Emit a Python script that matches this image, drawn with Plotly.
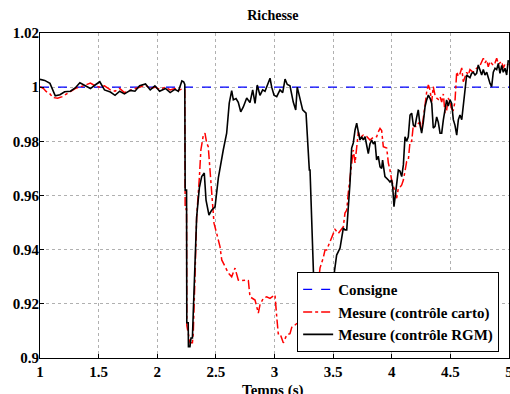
import plotly.graph_objects as go

# Consigne (setpoint)
t_consigne = [1.0, 5.0]
rich_consigne = [1.0, 1.0]

# Mesure (contrôle carto)
t_carto = [1.000, 1.03, 1.05, 1.085, 1.11, 1.15, 1.19, 1.25, 1.30, 1.35, 1.39, 1.43, 1.47, 1.51, 1.55,
           1.60, 1.64, 1.68, 1.72, 1.77, 1.81, 1.85, 1.90, 1.94, 1.98, 2.02, 2.07, 2.11, 2.15, 2.19,
           2.22, 2.235, 2.238, 2.250, 2.252, 2.265, 2.279, 2.300, 2.307, 2.322, 2.336, 2.359, 2.372,
           2.393, 2.407, 2.422, 2.435, 2.450, 2.464, 2.473, 2.484, 2.507, 2.535, 2.550, 2.578, 2.606,
           2.635, 2.663, 2.691, 2.720, 2.760, 2.777, 2.791, 2.834, 2.862, 2.876, 2.904, 2.933, 2.962,
           2.996, 3.004, 3.019, 3.032, 3.047, 3.075, 3.104, 3.132, 3.147, 3.17, 3.25, 3.32, 3.360,
           3.374, 3.388, 3.416, 3.431, 3.445, 3.473, 3.501, 3.516, 3.544, 3.573, 3.587, 3.601, 3.616,
           3.629, 3.644, 3.658, 3.672, 3.687, 3.701, 3.715, 3.729, 3.757, 3.786, 3.814, 3.843, 3.871,
           3.885, 3.900, 3.914, 3.928, 3.957, 3.971, 3.985, 3.999, 4.028, 4.042, 4.056, 4.070, 4.085,
           4.099, 4.113, 4.127, 4.141, 4.156, 4.170, 4.184, 4.198, 4.213, 4.226, 4.241, 4.255, 4.269,
           4.284, 4.298, 4.312, 4.326, 4.341, 4.354, 4.369, 4.383, 4.397, 4.412, 4.426, 4.440, 4.454,
           4.468, 4.482, 4.497, 4.511, 4.525, 4.539, 4.554, 4.568, 4.582, 4.597, 4.610, 4.625, 4.639,
           4.653, 4.667, 4.695, 4.724, 4.753, 4.781, 4.795, 4.810, 4.823, 4.838, 4.866, 4.881, 4.895,
           4.909, 4.923, 4.938, 4.951, 4.966, 4.980, 4.994]
rich_carto = [1.0002, 0.9995, 0.9985, 0.9975, 0.9962, 0.9959, 0.9965, 0.9980, 0.9995, 1.0002, 1.0010,
              1.0015, 1.0005, 1.0000, 1.0005, 0.9990, 0.9985, 0.9995, 0.9980, 0.9990, 0.9995, 1.0000,
              1.0008, 0.9995, 1.0000, 0.9992, 1.0000, 0.9990, 0.9995, 0.9990, 0.9995, 0.9990, 0.955,
              0.955, 0.912, 0.909, 0.9056, 0.9056, 0.909, 0.930, 0.952, 0.9665, 0.9768, 0.9823, 0.983,
              0.9794, 0.9780, 0.9694, 0.9596, 0.9546, 0.9498, 0.9460, 0.9411, 0.9362, 0.9337, 0.9314,
              0.9300, 0.9332, 0.9288, 0.9286, 0.9288, 0.9286, 0.9226, 0.9214, 0.9166, 0.9196, 0.9220,
              0.9226, 0.9220, 0.9233, 0.9233, 0.9152, 0.9090, 0.9090, 0.9056, 0.9085, 0.9090, 0.9113,
              0.912, 0.915, 0.918, 0.922, 0.9288, 0.9332, 0.9370, 0.9399, 0.9399, 0.9430, 0.9460,
              0.9475, 0.9460, 0.9475, 0.9485, 0.9535, 0.9546, 0.9609, 0.9670, 0.9731, 0.9768, 0.9720,
              0.9768, 0.9835, 0.9813, 0.9823, 0.9818, 0.9805, 0.9815, 0.9817, 0.9835, 0.9848, 0.9840,
              0.9780, 0.9775, 0.9720, 0.9694, 0.9657, 0.9614, 0.9590, 0.9626, 0.9630, 0.9639, 0.9657,
              0.9690, 0.9725, 0.9730, 0.9799, 0.9800, 0.9860, 0.9855, 0.9855, 0.9865, 0.9872, 0.9840,
              0.9880, 0.9934, 0.9983, 1.0008, 0.9990, 0.9946, 1.0002, 0.9970, 0.9960, 0.9955, 0.9965,
              0.9945, 0.9975, 0.9904, 0.9915, 0.9960, 0.9945, 0.9920, 0.9915, 0.9946, 1.0057, 1.0040,
              1.0050, 1.0071, 1.0020, 1.0040, 1.0055, 1.0045, 1.0065, 1.0055, 1.0070, 1.0080, 1.0107,
              1.0090, 1.0100, 1.0075, 1.0095, 1.0080, 1.0090, 1.0107, 1.0085, 1.0090, 1.0095, 1.0070,
              1.0085, 1.0080, 1.0085]

# Mesure (contrôle RGM)
t_rgm = [1.000, 1.04, 1.085, 1.11, 1.13, 1.17, 1.21, 1.26, 1.30, 1.34, 1.38, 1.43, 1.47, 1.51, 1.55,
         1.60, 1.64, 1.68, 1.72, 1.77, 1.81, 1.85, 1.90, 1.94, 1.98, 2.02, 2.07, 2.11, 2.15, 2.18,
         2.20, 2.21, 2.225, 2.235, 2.238, 2.250, 2.252, 2.264, 2.266, 2.279, 2.288, 2.300, 2.307,
         2.320, 2.336, 2.359, 2.379, 2.401, 2.416, 2.441, 2.464, 2.493, 2.521, 2.563, 2.592, 2.614,
         2.635, 2.649, 2.672, 2.691, 2.712, 2.734, 2.763, 2.791, 2.814, 2.834, 2.853, 2.876, 2.899,
         2.919, 2.942, 2.962, 2.976, 2.996, 3.019, 3.047, 3.070, 3.090, 3.109, 3.132, 3.160, 3.181,
         3.194, 3.217, 3.240, 3.269, 3.280, 3.297, 3.303, 3.317, 3.325, 3.335, 3.345, 3.37, 3.42,
         3.46, 3.495, 3.507, 3.530, 3.559, 3.573, 3.587, 3.601, 3.616, 3.629, 3.644, 3.658, 3.672,
         3.687, 3.701, 3.715, 3.729, 3.744, 3.757, 3.772, 3.786, 3.800, 3.814, 3.829, 3.843, 3.857,
         3.871, 3.885, 3.900, 3.914, 3.922, 3.942, 3.971, 3.985, 3.999, 4.008, 4.019, 4.028, 4.042,
         4.056, 4.070, 4.085, 4.099, 4.113, 4.127, 4.141, 4.156, 4.170, 4.184, 4.198, 4.213, 4.226,
         4.241, 4.255, 4.269, 4.284, 4.298, 4.312, 4.326, 4.341, 4.354, 4.369, 4.383, 4.397, 4.412,
         4.426, 4.440, 4.454, 4.468, 4.482, 4.497, 4.511, 4.525, 4.539, 4.554, 4.568, 4.582, 4.597,
         4.610, 4.625, 4.639, 4.653, 4.667, 4.681, 4.695, 4.710, 4.724, 4.738, 4.753, 4.767, 4.781,
         4.795, 4.810, 4.823, 4.838, 4.852, 4.866, 4.881, 4.895, 4.909, 4.923, 4.938, 4.951, 4.966,
         4.980, 4.994]
rich_rgm = [1.0029, 1.0025, 1.0014, 0.9985, 0.9968, 0.9972, 0.9983, 0.9985, 0.9997, 1.0016, 1.0008,
            0.9995, 1.0008, 1.0020, 0.9990, 0.9982, 0.9970, 0.9985, 0.9975, 0.9988, 0.9985, 1.0005,
            1.0012, 0.9990, 1.0005, 0.9985, 0.9995, 0.9980, 0.9992, 0.9985, 1.0010, 1.0023, 1.0020,
            1.0010, 0.962, 0.962, 0.913, 0.913, 0.9042, 0.9042, 0.9074, 0.9074, 0.9166, 0.935, 0.952,
            0.9628, 0.967, 0.9683, 0.9583, 0.9528, 0.9546, 0.9558, 0.9665, 0.9768, 0.983, 0.9941,
            0.9987, 0.9953, 0.9958, 0.9944, 0.9909, 0.9927, 0.9960, 0.9943, 0.9990, 0.9940, 1.0008,
            0.9970, 0.9990, 0.9985, 1.0014, 1.0033, 1.0000, 0.9970, 0.9965, 0.9990, 0.9980, 1.0030,
            1.0010, 1.0005, 0.9945, 0.9916, 1.0000, 0.9955, 0.9916, 0.9904, 0.9805, 0.9694, 0.9694,
            0.952, 0.9388, 0.9314, 0.915, 0.905, 0.903, 0.905, 0.915, 0.9306, 0.938, 0.9406, 0.9446,
            0.948, 0.9473, 0.9473, 0.9554, 0.9646, 0.9775, 0.9794, 0.9842, 0.9867, 0.9835, 0.9805,
            0.9817, 0.9805, 0.9817, 0.9780, 0.9755, 0.9790, 0.9805, 0.9790, 0.9800, 0.9731, 0.9745,
            0.9706, 0.9700, 0.9731, 0.9670, 0.9657, 0.9650, 0.9657, 0.9633, 0.9559, 0.9590, 0.9646,
            0.9694, 0.9690, 0.9670, 0.9713, 0.9817, 0.9800, 0.9817, 0.9897, 0.9904, 0.9860, 0.9854,
            0.9890, 0.9916, 0.9860, 0.9830, 0.9870, 0.9928, 0.9953, 0.9971, 0.9960, 0.9940, 0.9849,
            0.9855, 0.9890, 0.9870, 0.9830, 0.9830, 0.9879, 0.9920, 0.9953, 0.9930, 0.9953, 0.9940,
            0.9880, 0.9860, 0.9823, 0.9880, 0.9897, 0.9880, 0.9940, 0.9996, 1.0045, 1.0040, 1.0035,
            1.0051, 1.0055, 1.0045, 1.0051, 1.0082, 1.0060, 1.0045, 1.0065, 1.0045, 1.0055, 1.0035,
            1.0014, 1.0002, 1.0055, 1.0070, 1.0065, 1.0088, 1.0051, 1.0080, 1.0055, 1.0070, 1.0045,
            1.0100]

x_ticks = [1, 1.5, 2, 2.5, 3, 3.5, 4, 4.5, 5]
x_tick_labels = ["1", "1.5", "2", "2.5", "3", "3.5", "4", "4.5", "5"]
y_ticks = [0.9, 0.92, 0.94, 0.96, 0.98, 1.0, 1.02]
y_tick_labels = ["0.9", "0.92", "0.94", "0.96", "0.98", "1", "1.02"]

FONT = "Liberation Serif"

fig = go.Figure()
fig.add_trace(go.Scatter(x=t_consigne, y=rich_consigne, mode="lines", name="Consigne",
                         line=dict(color="#0000ff", width=1.3, dash="dash")))
fig.add_trace(go.Scatter(x=t_carto, y=rich_carto, mode="lines", name="Mesure (contrôle carto)",
                         line=dict(color="#ff0000", width=1.5, dash="dashdot")))
fig.add_trace(go.Scatter(x=t_rgm, y=rich_rgm, mode="lines", name="Mesure (contrôle RGM)",
                         line=dict(color="#000000", width=1.6)))

axis_common = dict(
    showline=True, linecolor="black", linewidth=1, mirror=True,
    ticks="inside", ticklen=4, tickcolor="black",
    showgrid=True, gridcolor="#b0b0b0", griddash="dot", gridwidth=1,
    zeroline=False, automargin=False, ticklabeloverflow="allow",
    tickfont=dict(family=FONT, size=15, color="black", weight="bold"),
)

fig.update_layout(
    width=510, height=394,
    margin=dict(l=40, r=1, t=33, b=36),
    paper_bgcolor="white", plot_bgcolor="white",
    title=dict(text="<b>Richesse</b>", x=0.535, xanchor="center", xref="container",
               y=0.962, yanchor="middle", yref="container", automargin=False,
               font=dict(family=FONT, size=14, color="black")),
    xaxis=dict(range=[1, 5], tickvals=x_ticks, ticktext=x_tick_labels, **axis_common),
    yaxis=dict(range=[0.9, 1.02], tickvals=y_ticks, ticktext=y_tick_labels,
               ticklabelstandoff=-3, **axis_common),
    legend=dict(x=0.979, y=0.018, xanchor="right", yanchor="bottom",
                bgcolor="white", bordercolor="black", borderwidth=1,
                font=dict(family=FONT, size=15, color="black", weight="bold"),
                tracegroupgap=0, itemwidth=30),
    showlegend=True,
    annotations=[dict(text="<b>Temps (s)</b>", x=0.497, y=-0.1, xref="paper", yref="paper",
                      xanchor="center", yanchor="middle", showarrow=False,
                      font=dict(family=FONT, size=15, color="black"))],
)

fig.write_html("out.html", config={"displayModeBar": False},
               post_script="document.body.style.margin='0';document.body.style.overflow='hidden';")
